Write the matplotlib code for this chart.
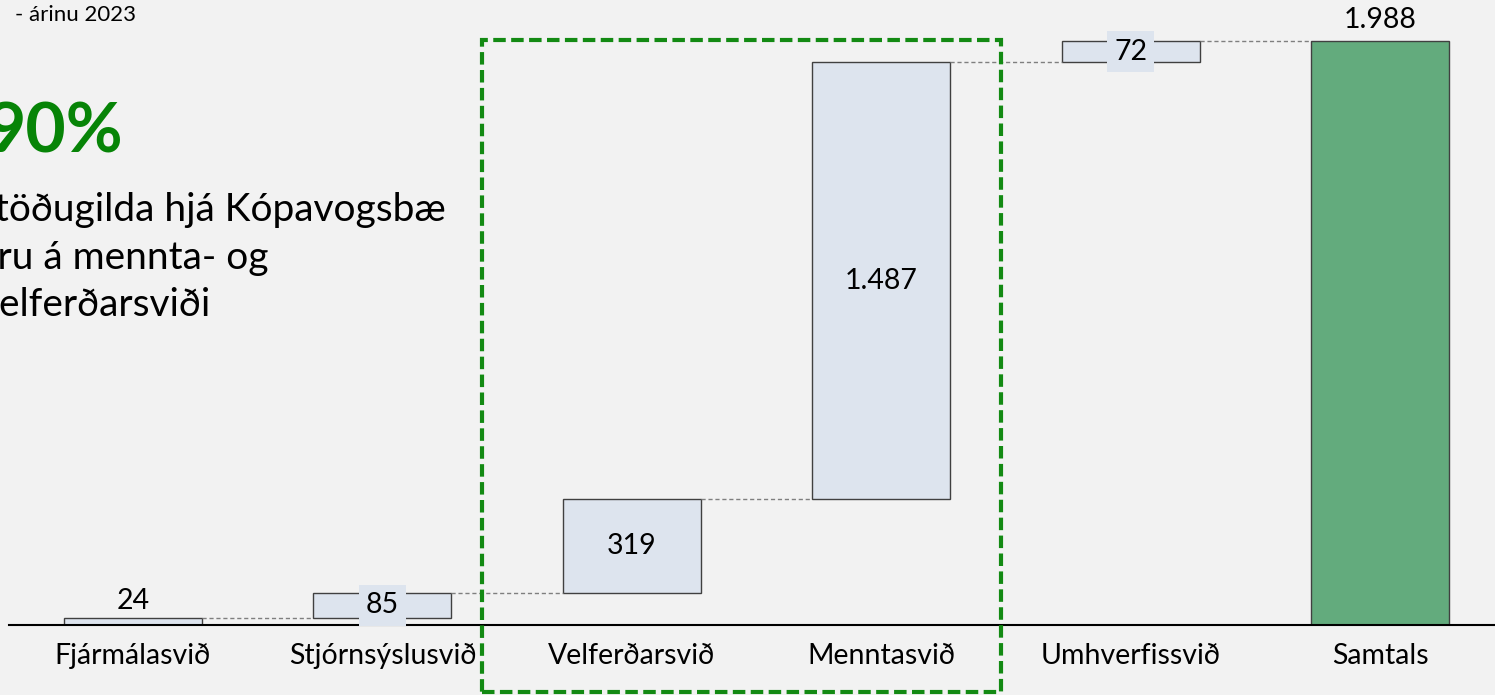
import numpy as np
import matplotlib.pyplot as plt
from matplotlib.patches import Rectangle

plt.rcParams['font.family'] = ['Lato', 'DejaVu Sans']

categories = ['Fjármálasvið', 'Stjórnsýslusvið', 'Velferðarsvið', 'Menntasvið', 'Umhverfissvið', 'Samtals']
steps = [24, 85, 319, 1487, 72]
total = 1988
labels = ['24', '85', '319', '1.487', '72', '1.988']

bg = '#f2f2f2'
step_color = '#dde4ee'
total_color = '#63ab7d'
edge = '#404040'

fig = plt.figure(figsize=(14.95, 6.95), dpi=100, facecolor=bg)
ax = fig.add_axes([9 / 1495, 70 / 695, 1486 / 1495, 625 / 695])
ax.set_facecolor(bg)

x = np.arange(len(categories))
bottoms = np.concatenate([[0], np.cumsum(steps)[:-1]])
tops = bottoms + np.array(steps)
# last step ends at the total
tops[-1] = total
heights = tops - bottoms
w = 0.553

ax.bar(x[:-1], heights, bottom=bottoms, width=w, color=step_color, edgecolor=edge, linewidth=1)
ax.bar(x[-1], total, width=w, color=total_color, edgecolor=edge, linewidth=1)

# connectors
ends = list(tops) + [total]
for i in range(len(categories) - 1):
    ax.plot([x[i] + w / 2, x[i + 1] - w / 2], [ends[i], ends[i]], ls=(0, (3, 2)), color='#7f7f7f', lw=1)

fs = 20.5
# value labels
ax.text(x[0], tops[0] + 14, labels[0], ha='center', va='bottom', fontsize=fs)
for i in [1, 4]:
    ax.text(x[i], (bottoms[i] + tops[i]) / 2, labels[i], ha='center', va='center', fontsize=fs,
            bbox=dict(boxstyle='square,pad=0.25', fc=step_color, ec='none'))
for i in [2, 3]:
    ax.text(x[i], (bottoms[i] + tops[i]) / 2, labels[i], ha='center', va='center', fontsize=fs)
ax.text(x[5], total + 28, labels[5], ha='center', va='bottom', fontsize=fs)

ax.set_xlim(-0.497, 5.46)
ax.set_ylim(0, 2127)
ax.set_xticks(x)
ax.set_xticklabels(categories, fontsize=fs)
ax.tick_params(axis='x', length=0, pad=13)
ax.set_yticks([])
for s in ['top', 'right', 'left']:
    ax.spines[s].set_visible(False)
ax.spines['bottom'].set_color('black')
ax.spines['bottom'].set_linewidth(1.5)

# highlight box
ax.add_patch(Rectangle((1.40, -228), 2.08, 2219, fill=False, ec='#138a13', lw=3,
                       ls=(0, (3, 1.3)), clip_on=False, zorder=5))

# text box on the left, cropped at the figure edge as in the slide
fig.text(15 / 1495, 1 - 15 / 695, '- árinu 2023', fontsize=16, va='center', ha='left')
fig.text(-15 / 1495, 1 - 133 / 695, '90%', fontsize=50, fontweight='bold', color='#078407', va='center', ha='left')
fig.text(-22 / 1495, 1 - 210 / 695, 'stöðugilda hjá Kópavogsbæ', fontsize=28, va='center', ha='left')
fig.text(-23 / 1495, 1 - 258 / 695, 'eru á mennta- og', fontsize=28, va='center', ha='left')
fig.text(-20 / 1495, 1 - 305 / 695, 'velferðarsviði', fontsize=28, va='center', ha='left')

fig.savefig('out.png', dpi=100, facecolor=bg)
